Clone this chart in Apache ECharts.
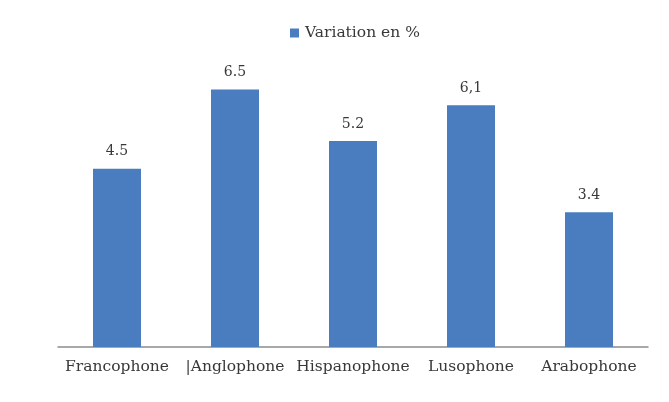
<!DOCTYPE html>
<html>
<head>
<meta charset="utf-8">
<script src="https://cdn.jsdelivr.net/npm/echarts@6/dist/echarts.min.js"></script>
<style>
  html, body { margin: 0; padding: 0; background: #ffffff; }
  #chart { width: 669px; height: 402px; }
</style>
</head>
<body>
<div id="chart"></div>
<script>
// Growth by language zone, in percent
const categories = ['Francophone', '|Anglophone', 'Hispanophone', 'Lusophone', 'Arabophone'];
const variation = [4.5, 6.5, 5.2, 6.1, 3.4];
// decimal separator used in each printed label
const separators = ['.', '.', '.', ',', '.'];
const seriesName = 'Variation en %';

const serif = '"DejaVu Serif", "Liberation Serif", serif';
const chart = echarts.init(document.getElementById('chart'));

chart.setOption({
  animation: false,
  backgroundColor: '#ffffff',
  legend: {
    data: [seriesName],
    top: 20,
    left: 285,
    icon: 'rect',
    itemWidth: 9,
    itemHeight: 9,
    itemGap: 3,
    textStyle: { fontFamily: serif, fontSize: 15.5, color: '#383838', padding: [0, 0, 0, 1] }
  },
  grid: { left: 58, right: 21, top: 30, bottom: 55 },
  xAxis: {
    type: 'category',
    data: categories,
    axisLine: { lineStyle: { color: '#8c8c8c', width: 1.5 } },
    axisTick: { show: false },
    axisLabel: { fontFamily: serif, fontSize: 15.5, color: '#383838', margin: 12, interval: 0 }
  },
  yAxis: {
    type: 'value',
    min: 0,
    max: 8,
    show: false,
    splitLine: { show: false }
  },
  series: [{
    name: seriesName,
    type: 'bar',
    data: variation,
    barWidth: 48,
    itemStyle: { color: '#4a7dbf' },
    label: {
      show: true,
      position: 'top',
      distance: 10,
      fontFamily: serif,
      fontSize: 14,
      color: '#383838',
      formatter: p => p.value.toFixed(1).replace('.', separators[p.dataIndex])
    }
  }]
});
</script>
</body>
</html>
